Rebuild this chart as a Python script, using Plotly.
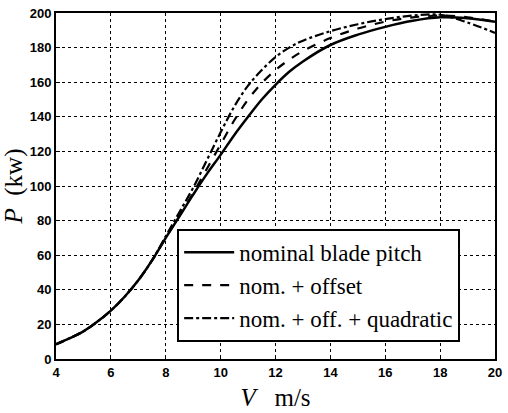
import plotly.graph_objects as go

V = [4, 4.5, 5, 5.5, 6, 6.5, 7, 7.5, 8, 8.5, 9, 9.5, 10, 10.5, 11, 11.5, 12, 12.5, 13, 14, 15, 16, 17, 18, 19, 20]
P_nominal = [8.5, 12, 16, 21.5, 28, 36, 45.5, 57, 70, 82.5, 95, 107, 118, 129.5, 140, 150, 158.5, 166, 172, 181.5, 187.5, 192, 195.5, 197.5, 197, 195]
P_offset = [8.5, 12, 16, 21.5, 28, 36, 45.5, 57, 70, 83, 96, 110, 124, 138, 150, 159.5, 167, 173, 178, 185.5, 191, 195, 197.5, 198.5, 197.5, 195]
P_quad = [8.5, 12, 16, 21.5, 28, 36, 45.5, 57, 71, 85, 99, 115, 131, 146, 158, 167, 174.5, 180, 184, 189.5, 193.5, 196.5, 198.5, 199, 194.5, 188.5]

x_ticks = [4, 6, 8, 10, 12, 14, 16, 18, 20]
y_ticks = [0, 20, 40, 60, 80, 100, 120, 140, 160, 180, 200]

legend_names = ["nominal blade pitch", "nom. + offset", "nom. + off. + quadratic"]
series = [
    (legend_names[0], P_nominal, "solid", 2.5),
    (legend_names[1], P_offset, "dash", 2.2),
    (legend_names[2], P_quad, "dashdot", 2.2),
]

SERIF = "Liberation Serif"

fig = go.Figure()
for name, ys, dash, w in series:
    fig.add_trace(go.Scatter(
        x=V, y=ys, mode="lines", name=name,
        line=dict(color="black", width=w, dash=dash, shape="spline", smoothing=1.0),
    ))

axis_common = dict(
    showline=True, linecolor="black", linewidth=2, mirror=True,
    ticks="inside", ticklen=4, tickcolor="black",
    showgrid=True, gridcolor="black", gridwidth=1, griddash="dot",
    zeroline=False, ticklabeloverflow="allow",
    tickfont=dict(family="Liberation Sans", size=13, color="black", weight="bold"),
)

fig.update_xaxes(range=[4, 20], tickvals=x_ticks, ticktext=[str(t) for t in x_ticks],
                 title=dict(text="<i>V</i>   m/s", font=dict(family=SERIF, size=25, color="black"),
                            standoff=10), **axis_common)
fig.update_yaxes(range=[0, 200], tickvals=y_ticks, ticktext=[str(t) for t in y_ticks],
                 title=dict(text="<i>P</i>  (kw)", font=dict(family=SERIF, size=25, color="black"),
                            standoff=5), **axis_common)

fig.update_layout(
    width=508, height=413,
    margin=dict(l=56, r=6, t=13, b=54),
    paper_bgcolor="white", plot_bgcolor="white",
    font=dict(family=SERIF, color="black"),
    showlegend=True,
    legend=dict(
        x=0.276, y=0.213, xanchor="left", yanchor="middle",
        bgcolor="white", bordercolor="black", borderwidth=2,
        font=dict(family=SERIF, size=23, color="black"),
        tracegroupgap=0, itemwidth=50,
    ),
)

fig.write_html("out.html")
